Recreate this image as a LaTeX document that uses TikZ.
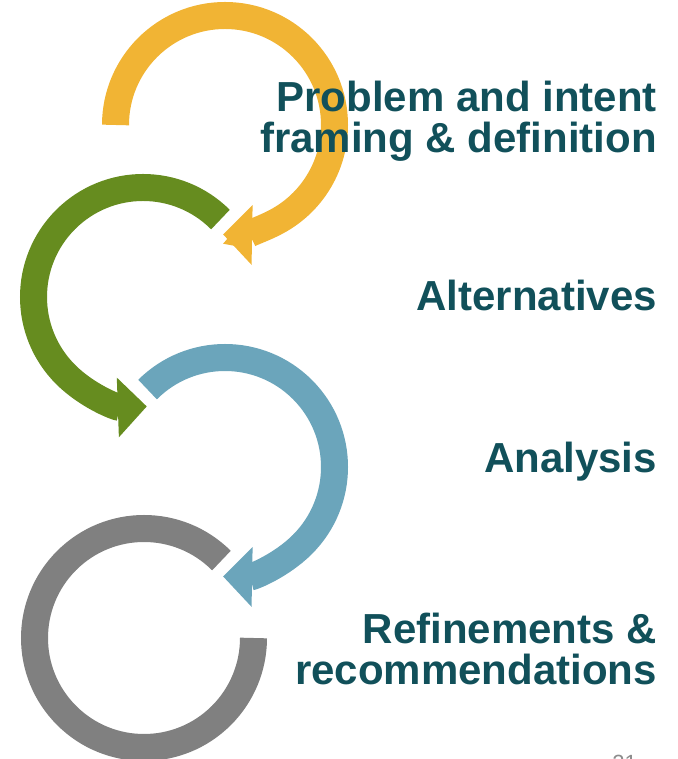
\documentclass[tikz,border=0pt]{standalone}
\usepackage{fontspec}
\usepackage{tikz}
\usepackage{xcolor}
\usetikzlibrary{arrows.meta}
\setmainfont{Liberation Sans}
\definecolor{framingc}{HTML}{F1B434}
\definecolor{alternativesc}{HTML}{668C1F}
\definecolor{analysisc}{HTML}{6BA5BB}
\definecolor{refinec}{HTML}{808080}
\definecolor{labelc}{HTML}{11505A}
\colorlet{pagenumc}{black!45}
\tikzstyle{ring} =[
    line width=27pt
    ]
\tikzstyle{ringarrow} =[
    ring,
    -{Triangle[length=29pt,width=58pt]}
    ]
\tikzstyle{steplabel} =[
    text=labelc,
    font=\fontsize{42}{41.5}\selectfont\bfseries,
    align=right,
    anchor=base east,
    inner sep=0pt
    ]

\begin{document}
\begin{tikzpicture}[x=1pt,y=1pt]
\useasboundingbox (0,0) rectangle (677,759);
% centres of the four loops
\coordinate (framing) at (225,634);
\coordinate (alternatives) at (143,462);
\coordinate (analysis) at (225,292);
\coordinate (refine) at (144,121);

\draw [ringarrow, framingc] (framing) ++(180:109.5)
    arc[start angle=180, end angle=-91, radius=109.5];
\draw [ringarrow, alternativesc] (alternatives) ++(45:109.5)
    arc[start angle=45, end angle=272, radius=109.5];
\draw [ringarrow, analysisc] (analysis) ++(135:109.5)
    arc[start angle=135, end angle=-91, radius=109.5];
\draw [ring, refinec] (refine) ++(45:109.5)
    arc[start angle=45, end angle=360, radius=109.5];

% base anchor sits on the last line
\node [steplabel] (framinglabel) at (657,606) {Problem and intent\\framing \& definition};
\node [steplabel] (alternativeslabel) at (657,448.3) {Alternatives};
\node [steplabel] (analysislabel) at (657,286.3) {Analysis};
\node [steplabel] (refinelabel) at (657,74) {Refinements \&\\recommendations};
\node [text=pagenumc, font=\fontsize{22}{24}\selectfont, anchor=base east, inner sep=0pt] (pagenum) at (637,-11) {21};
\end{tikzpicture}
\end{document}
